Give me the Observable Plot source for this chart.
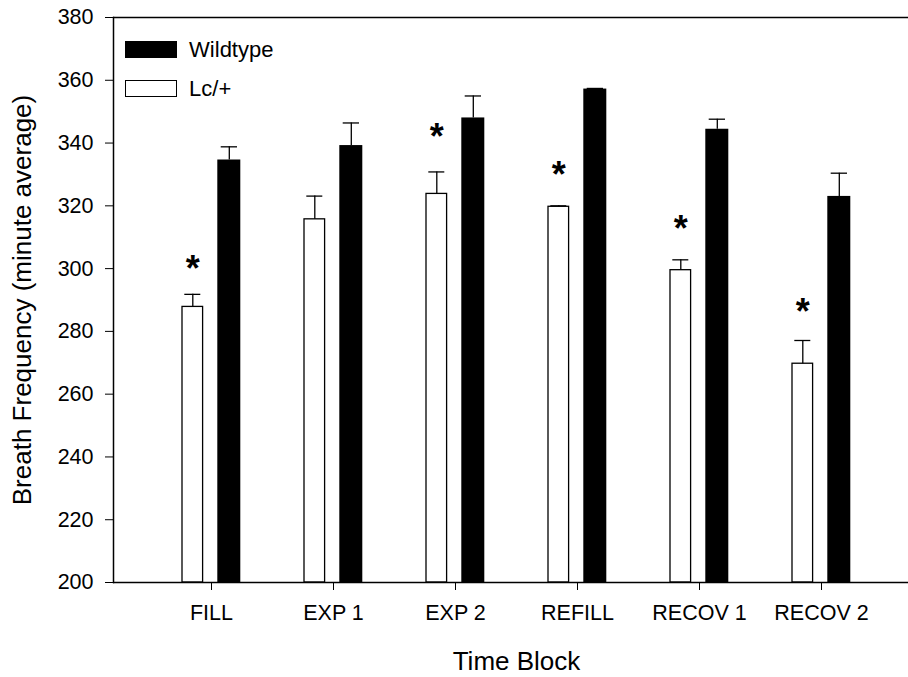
<!DOCTYPE html>
<html><head><meta charset="utf-8">
<script src="https://cdn.jsdelivr.net/npm/d3@7"></script>
<script src="https://cdn.jsdelivr.net/npm/@observablehq/plot@0.6"></script>
<style>
html,body{margin:0;padding:0;background:#fff;overflow:hidden}
#wrap{position:relative;width:908px;height:677px;font-family:"Liberation Sans",Arial,sans-serif}
.legend{position:absolute;left:125px;top:41px;font-size:22px;color:#000;line-height:17px}
.row{display:flex;align-items:center;height:17px;margin-bottom:21.7px}
.sw{width:51.5px;height:17px;box-sizing:border-box;margin-right:12.6px}
</style></head>
<body><div id="wrap"></div>
<script>
const categories = ["FILL", "EXP 1", "EXP 2", "REFILL", "RECOV 1", "RECOV 2"];
const lcMean = [287.8, 315.7, 323.8, 319.7, 299.5, 269.7];
const lcSE   = [4.0, 7.4, 7.0, 0.3, 3.3, 7.4];
const wtMean = [334.6, 339.2, 348.0, 357.2, 344.4, 323.0];
const wtSE   = [4.2, 7.2, 7.0, 0.2, 3.2, 7.4];
const starY  = [301.6, null, 343.6, 331.6, 314.3, 288.0];
const yTicks = [200, 220, 240, 260, 280, 300, 320, 340, 360, 380];
const seriesNames = ["Wildtype", "Lc/+"];
const xTitle = "Time Block";
const yTitle = "Breath Frequency (minute average)";

const lcRows = categories.map((c, i) => ({cat: c, mean: lcMean[i], top: lcMean[i] + lcSE[i]}));
const wtRows = categories.map((c, i) => ({cat: c, mean: wtMean[i], top: wtMean[i] + wtSE[i]}));
const stars = categories.map((c, i) => ({cat: c, y: starY[i], s: "*"})).filter(d => d.y != null);

const font = "Liberation Sans, Arial, sans-serif";
const chart = Plot.plot({
  width: 908, height: 677,
  marginLeft: 113, marginRight: 0, marginTop: 17, marginBottom: 95,
  style: {fontFamily: font, fontSize: "21.5px", color: "#000", background: "#fff"},
  x: {type: "band", domain: categories, range: [113, 919], paddingInner: 0, paddingOuter: 0.303},
  y: {domain: [200, 380]},
  marks: [
    Plot.barY(wtRows, {x: "cat", y1: 200, y2: "mean", fill: "#000", insetLeft: 67.3, insetRight: 31.7}),
    Plot.barY(lcRows, {x: "cat", y1: 200, y2: "mean", fill: "#fff", stroke: "#000", strokeWidth: 1.3, insetLeft: 32, insetRight: 69.4}),
    Plot.ruleX(lcRows, {x: "cat", y1: "mean", y2: "top", dx: -18.7, stroke: "#000", strokeWidth: 1.3}),
    Plot.tickY(lcRows, {x: "cat", y: "top", insetLeft: 34.3, insetRight: 71.7, stroke: "#000", strokeWidth: 1.3}),
    Plot.ruleX(wtRows, {x: "cat", y1: "mean", y2: "top", dx: 17.8, stroke: "#000", strokeWidth: 1.3}),
    Plot.tickY(wtRows, {x: "cat", y: "top", insetLeft: 70.7, insetRight: 35, stroke: "#000", strokeWidth: 1.3}),
    Plot.text(stars, {x: "cat", y: "y", text: "s", dx: -18.7, dy: 6, fontSize: 36, fontWeight: "bold", fill: "#000"}),
    Plot.ruleY([200, 380], {stroke: "#000", strokeWidth: 1.5}),
    Plot.frame({anchor: "left", stroke: "#000", strokeWidth: 1.5}),
    Plot.axisY({ticks: yTicks, tickSize: 8, tickPadding: 12, label: null, fontSize: 21.5}),
    Plot.axisX({tickSize: 8, tickPadding: 14, label: null, fontSize: 21.5}),
    Plot.text([xTitle], {text: d => d, frameAnchor: "bottom", lineAnchor: "top", dy: 69.5, dx: 5.5, fontSize: 26, fill: "#000"}),
    Plot.text([yTitle], {text: d => d, frameAnchor: "left", textAnchor: "middle", rotate: -90, dx: -91.3, fontSize: 26, fill: "#000"})
  ]
});
const wrap = document.getElementById("wrap");
wrap.appendChild(chart);

const legend = document.createElement("div");
legend.className = "legend";
const swStyles = ["background:#000;border:1px solid #000", "background:#fff;border:1.5px solid #000"];
seriesNames.forEach((name, i) => {
  const row = document.createElement("div");
  row.className = "row";
  const sw = document.createElement("div");
  sw.className = "sw";
  sw.setAttribute("style", swStyles[i]);
  const t = document.createElement("span");
  t.textContent = name;
  row.appendChild(sw);
  row.appendChild(t);
  legend.appendChild(row);
});
wrap.appendChild(legend);
</script>
</body></html>
